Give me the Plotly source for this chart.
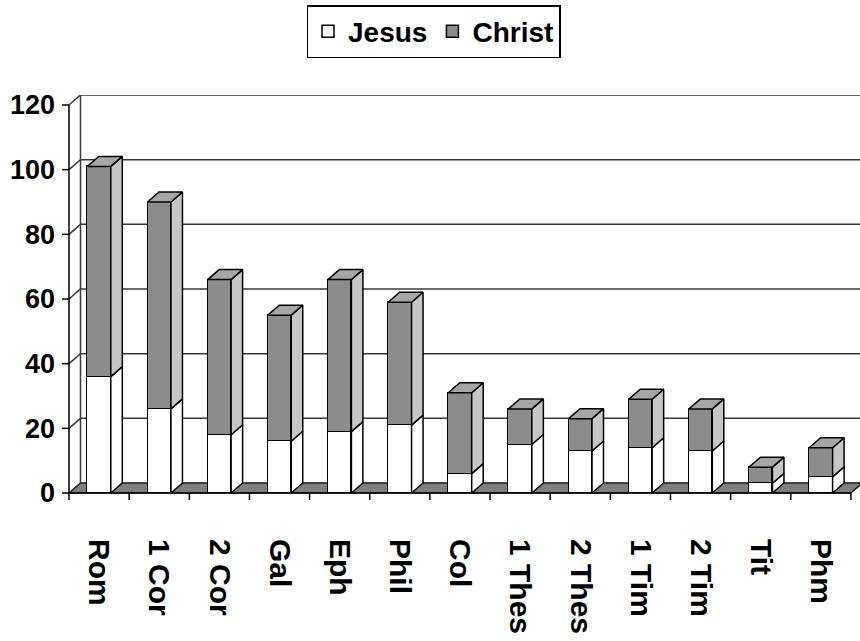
import plotly.graph_objects as go

# Occurrences of the names in the Pauline letters
books = ["Rom", "1 Cor", "2 Cor", "Gal", "Eph", "Phil", "Col",
         "1 Thes", "2 Thes", "1 Tim", "2 Tim", "Tit", "Phm"]
jesus = [36, 26, 18, 16, 19, 21, 6, 15, 13, 14, 13, 3, 5]
christ = [65, 64, 48, 39, 47, 38, 25, 11, 10, 15, 13, 5, 9]
y_ticks = [0, 20, 40, 60, 80, 100, 120]

# ---- view geometry (pixels) ----
W, H = 860, 641
PX_X = 60.15          # pixels per category
PX_Y = 3.2333         # pixels per count unit
FRONT_LEFT, FRONT_BOTTOM = 69, 493
PLOT_LEFT, PLOT_RIGHT, PLOT_TOP, PLOT_BOTTOM = 62, 860, 95, 500
DX = 11.5 / PX_X      # 3-D depth offset, in data units
DY = 10.0 / PX_Y
TICK_X = 7 / PX_X
TICK_Y = 7 / PX_Y
BAR_W = 0.39

n = len(books)
x_left, x_right = -0.5, n - 0.5
x_min = x_left - (FRONT_LEFT - PLOT_LEFT) / PX_X
x_max = x_left + (PLOT_RIGHT - FRONT_LEFT) / PX_X
y_min = -(PLOT_BOTTOM - FRONT_BOTTOM) / PX_Y
y_max = (FRONT_BOTTOM - PLOT_TOP) / PX_Y

FONT = "Liberation Sans, Arial, sans-serif"
EDGE = "black"
GRID = "#3a3a3a"
FLOOR = "#7f7f7f"
FACE = {"Jesus": ("#ffffff", "#ffffff", "#ffffff"),
        "Christ": ("#8c8c8c", "#c6c6c6", "#a6a6a6")}   # front, side, top


def path(points, close=False):
    s = "M " + " L ".join(f"{x},{y}" for x, y in points)
    return s + (" Z" if close else "")


shapes = []
# floor
shapes.append(dict(type="path", layer="below", xref="x", yref="y",
                   path=path([(x_left, 0), (x_right, 0), (x_right + DX, DY),
                              (x_left + DX, DY)], close=True),
                   fillcolor=FLOOR, line=dict(color=EDGE, width=1.2)))
# side-wall and back-wall gridlines
for v in y_ticks:
    shapes.append(dict(type="path", layer="below", xref="x", yref="y",
                       path=path([(x_left, v), (x_left + DX, v + DY), (x_max, v + DY)]),
                       line=dict(color=GRID, width=1.5)))
# back edge of the side wall
shapes.append(dict(type="line", layer="below", xref="x", yref="y",
                   x0=x_left + DX, x1=x_left + DX, y0=DY, y1=y_ticks[-1] + DY,
                   line=dict(color=GRID, width=1.5)))
# front value axis with its ticks
shapes.append(dict(type="line", layer="below", xref="x", yref="y",
                   x0=x_left, x1=x_left, y0=0, y1=y_ticks[-1],
                   line=dict(color=EDGE, width=1.5)))
for v in y_ticks:
    shapes.append(dict(type="line", layer="below", xref="x", yref="y",
                       x0=x_left - TICK_X, x1=x_left, y0=v, y1=v,
                       line=dict(color=EDGE, width=1.5)))
# front category axis with ticks on the category boundaries
shapes.append(dict(type="line", layer="below", xref="x", yref="y",
                   x0=x_left, x1=x_right, y0=0, y1=0,
                   line=dict(color=EDGE, width=1.5)))
for k in range(n + 1):
    shapes.append(dict(type="line", layer="below", xref="x", yref="y",
                       x0=k - 0.5, x1=k - 0.5, y0=-TICK_Y, y1=0,
                       line=dict(color=EDGE, width=1.5)))

fig = go.Figure()

# front faces of the stacked columns
for name, vals in (("Jesus", jesus), ("Christ", christ)):
    fig.add_trace(go.Bar(
        name=name, x=list(range(n)), y=vals, width=BAR_W,
        marker=dict(color=FACE[name][0], line=dict(color=EDGE, width=1.5)),
        hoverinfo="skip"))

# side and top faces
for i in range(n):
    xl, xr = i - BAR_W / 2, i + BAR_W / 2
    segs = [("Jesus", 0, jesus[i]), ("Christ", jesus[i], jesus[i] + christ[i])]
    for name, lo, hi in segs:
        pts = [(xr, lo), (xr + DX, lo + DY), (xr + DX, hi + DY), (xr, hi), (xr, lo)]
        fig.add_trace(go.Scatter(
            x=[p[0] for p in pts], y=[p[1] for p in pts], mode="lines",
            fill="toself", fillcolor=FACE[name][1],
            line=dict(color=EDGE, width=1.5), showlegend=False, hoverinfo="skip"))
    top = jesus[i] + christ[i]
    pts = [(xl, top), (xr, top), (xr + DX, top + DY), (xl + DX, top + DY), (xl, top)]
    fig.add_trace(go.Scatter(
        x=[p[0] for p in pts], y=[p[1] for p in pts], mode="lines",
        fill="toself", fillcolor=FACE["Christ"][2],
        line=dict(color=EDGE, width=1.5), showlegend=False, hoverinfo="skip"))

plot_w = PLOT_RIGHT - PLOT_LEFT
plot_h = PLOT_BOTTOM - PLOT_TOP

fig.update_layout(
    width=W, height=H,
    margin=dict(l=PLOT_LEFT, r=W - PLOT_RIGHT, t=PLOT_TOP, b=H - PLOT_BOTTOM, pad=0),
    paper_bgcolor="white", plot_bgcolor="white",
    barmode="stack", bargap=0,
    shapes=shapes,
    font=dict(family=FONT, color="black", weight="bold"),
    legend=dict(
        orientation="h", traceorder="normal",
        x=(433.5 - PLOT_LEFT) / plot_w, xanchor="center",
        y=1 + (PLOT_TOP - 5) / plot_h, yanchor="top",
        bordercolor="black", borderwidth=1.5, bgcolor="white",
        font=dict(family=FONT, size=28, color="black", weight="bold"),
        itemwidth=30),
    xaxis=dict(range=[x_min, x_max], tickmode="array",
               tickvals=list(range(n)), ticktext=books, ticks="",
               tickangle=90, ticklabelstandoff=38,
               tickfont=dict(family=FONT, size=30, color="black", weight="bold"),
               showgrid=False, zeroline=False, showline=False, fixedrange=True),
    yaxis=dict(range=[y_min, y_max], tickmode="array", tickvals=y_ticks,
               ticks="", ticklabelstandoff=6,
               tickfont=dict(family=FONT, size=27, color="black", weight="bold"),
               showgrid=False, zeroline=False, showline=False, fixedrange=True),
)

fig.write_html("out.html")
